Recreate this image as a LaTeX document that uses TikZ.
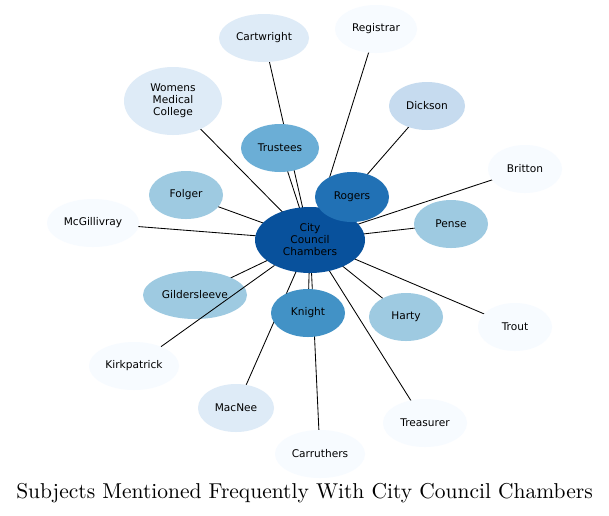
\documentclass[tikz,border=0pt]{standalone}
\usepackage{fontspec}
\newfontfamily\nodefont{DejaVu Sans}
\newfontfamily\titlefont{lmroman10-regular}[Extension=.otf]
\usetikzlibrary{shapes.geometric,backgrounds}
\definecolor{cA}{HTML}{08519C}
\definecolor{cB}{HTML}{2171B5}
\definecolor{cC}{HTML}{4292C6}
\definecolor{cD}{HTML}{6BAED6}
\definecolor{cE}{HTML}{9ECAE1}
\definecolor{cF}{HTML}{C6DBEF}
\definecolor{cG}{HTML}{DEEBF7}
\definecolor{cH}{HTML}{F7FBFF}
\tikzset{
  ent/.style={ellipse, inner sep=0pt, align=center, font=\nodefont\fontsize{10.6}{12}\selectfont, text=black},
  link/.style={draw=black, line width=0.85pt}
}
\begin{document}
\begin{tikzpicture}[x=1pt,y=-1pt]
\useasboundingbox (0,0) rectangle (609,515);
\node[ent, fill=cA, minimum width=110, minimum height=66] (ccc) at (310,240) {City\\Council\\Chambers};
\node[ent, fill=cB, minimum width=74, minimum height=50] (rog) at (352,197) {Rogers};
\node[ent, fill=cD, minimum width=78, minimum height=48] (tru) at (280,148) {Trustees};
\node[ent, fill=cG, minimum width=90, minimum height=48] (car) at (264,38) {Cartwright};
\node[ent, fill=cH, minimum width=82, minimum height=48] (reg) at (376,29) {Registrar};
\node[ent, fill=cF, minimum width=76, minimum height=48] (dic) at (427,106) {Dickson};
\node[ent, fill=cH, minimum width=74, minimum height=48] (bri) at (525,169) {Britton};
\node[ent, fill=cE, minimum width=74, minimum height=48] (pen) at (451,224) {Pense};
\node[ent, fill=cG, minimum width=98, minimum height=68] (wom) at (173,101) {Womens\\Medical\\College};
\node[ent, fill=cE, minimum width=74, minimum height=48] (fol) at (186,195) {Folger};
\node[ent, fill=cH, minimum width=92, minimum height=48] (mcg) at (93,223) {McGillivray};
\node[ent, fill=cE, minimum width=104, minimum height=48] (gil) at (195,295) {Gildersleeve};
\node[ent, fill=cH, minimum width=90, minimum height=48] (kir) at (134,366) {Kirkpatrick};
\node[ent, fill=cC, minimum width=74, minimum height=48] (kni) at (308,313) {Knight};
\node[ent, fill=cE, minimum width=74, minimum height=48] (har) at (406,317) {Harty};
\node[ent, fill=cH, minimum width=74, minimum height=48] (tro) at (515,327) {Trout};
\node[ent, fill=cG, minimum width=76, minimum height=48] (mac) at (236,408) {MacNee};
\node[ent, fill=cH, minimum width=90, minimum height=48] (crr) at (320,454) {Carruthers};
\node[ent, fill=cH, minimum width=84, minimum height=48] (tre) at (425,423) {Treasurer};
\begin{scope}[on background layer]
\fill[white] (0,0) rectangle (609,515);
\foreach \n in {rog,tru,car,reg,dic,bri,pen,wom,fol,mcg,gil,kni,har,tro,mac,crr,tre}
  \draw[link] (ccc.center) -- (\n.center);
\end{scope}
\draw[link] (ccc) -- (kir);
\node[font=\titlefont\fontsize{21.5}{26}\selectfont] (title) at (304.5,493) {Subjects Mentioned Frequently With City Council Chambers};
\end{tikzpicture}
\end{document}
